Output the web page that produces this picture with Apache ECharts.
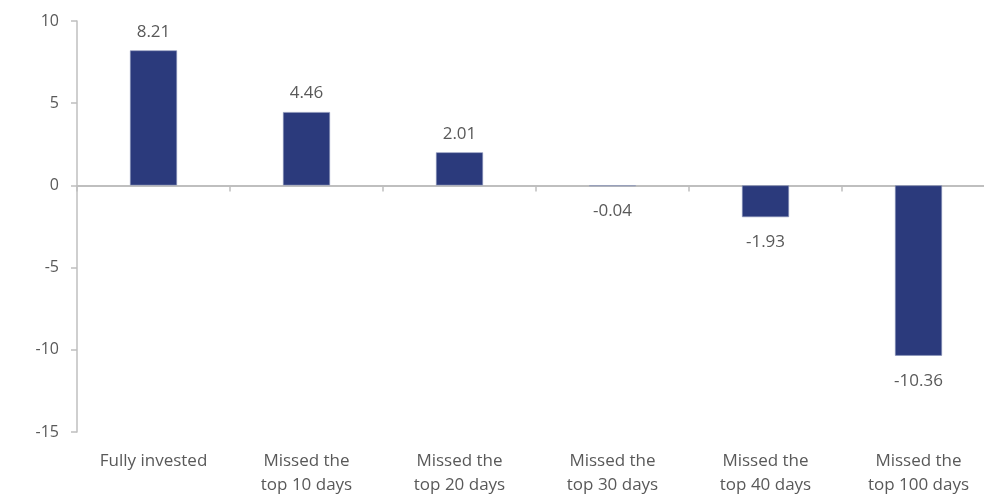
<!DOCTYPE html>
<html><head><meta charset="utf-8">
<script src="https://cdn.jsdelivr.net/npm/echarts@6/dist/echarts.min.js"></script>
<style>html,body{margin:0;padding:0;background:#fff}#c{width:984px;height:494px}</style>
</head><body><div id="c"></div>
<script>
const categories = ["Fully invested", "Missed the\ntop 10 days", "Missed the\ntop 20 days", "Missed the\ntop 30 days", "Missed the\ntop 40 days", "Missed the\ntop 100 days"];
const values = [8.21, 4.46, 2.01, -0.04, -1.93, -10.36];
const yTicks = { min: -15, max: 10, interval: 5 };

const font = "'Open Sans', 'Noto Sans', sans-serif";
const txt = '#595959';
const axisCol = '#bfbfbf';

const chart = echarts.init(document.getElementById('c'), null, { renderer: 'canvas' });
chart.setOption({
  animation: false,
  grid: { left: 77, width: 918, top: 21, bottom: 62, containLabel: false, outerBoundsMode: 'none' },
  xAxis: [
    {
      type: 'category', data: categories,
      axisLine: { onZero: true, lineStyle: { color: axisCol, width: 2 } },
      axisTick: { show: true, length: 6, lineStyle: { color: axisCol, width: 1.5 } },
      axisLabel: { show: false }
    },
    {
      type: 'category', data: categories, position: 'bottom',
      axisLine: { show: false, onZero: false }, axisTick: { show: false },
      axisLabel: { show: true, color: txt, fontFamily: font, fontSize: 17, lineHeight: 24, margin: 17, interval: 0 }
    }
  ],
  yAxis: {
    type: 'value', min: yTicks.min, max: yTicks.max, interval: yTicks.interval,
    splitLine: { show: false },
    axisLine: { show: true, lineStyle: { color: axisCol, width: 1.5 } },
    axisTick: { show: true, length: 6, lineStyle: { color: axisCol, width: 1.5 } },
    axisLabel: { color: txt, fontFamily: font, fontSize: 16, margin: 18 }
  },
  series: [{
    type: 'bar', xAxisIndex: 0, barWidth: 47,
    itemStyle: { color: '#2b3a7c', borderColor: '#8a93b8', borderWidth: 0.6 },
    data: values.map(v => ({
      value: v,
      label: { show: true, position: v >= 0 ? 'top' : 'bottom', distance: v >= 0 ? 10 : 17,
        color: txt, fontFamily: font, fontSize: 17, formatter: p => p.value.toFixed(2) }
    }))
  }]
});
</script></body></html>
